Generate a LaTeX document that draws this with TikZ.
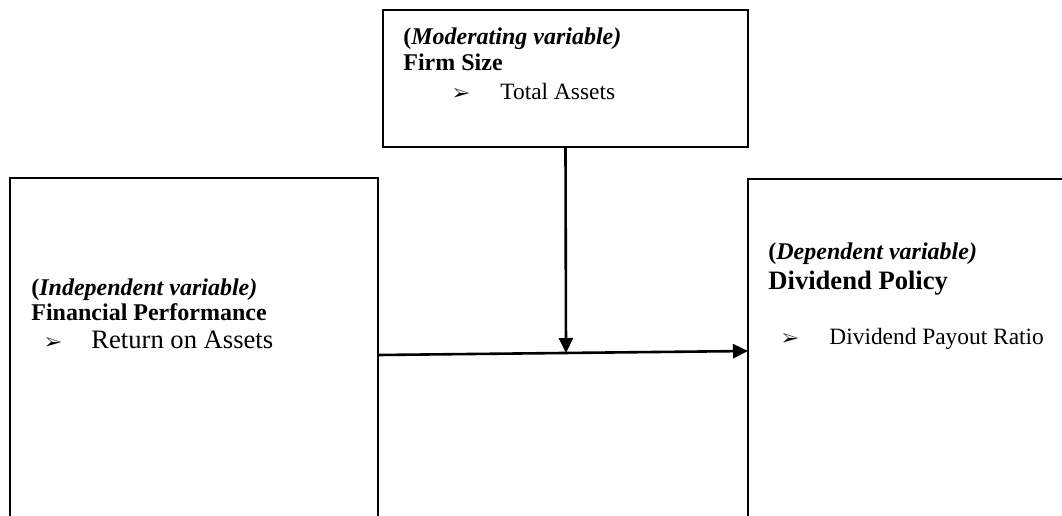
\documentclass[tikz,border=0pt]{standalone}
\usepackage{fontspec}
\setmainfont{Liberation Serif}
\usepackage{pifont}
\usetikzlibrary{positioning, arrows.meta}

\begin{document}
\begin{tikzpicture}[x=0.5pt, y=-0.5pt,
    box/.style={draw, rectangle, line width=1.2pt, outer sep=0, inner sep=0, anchor=north west},
    txt/.style={anchor=base west, inner sep=0, font=\fontsize{12}{14}\selectfont},
    conn/.style={line width=1.3pt, -{Triangle[length=7.5pt, width=7pt]}}]
      \clip (0,0) rectangle (1062,515);
      \node[box, minimum width=182.5pt, minimum height=68.5pt] (fs) at (383,10) {};
      \node[box, minimum width=184pt, minimum height=200pt] (fp) at (10,178) {};
      \node[box, minimum width=200pt, minimum height=200pt] (dp) at (748,179) {};

      \node[txt] (fsvar) at (403,44) {\textbf{(}\textbf{\textit{Moderating variable)}}};
      \node[txt] (fsname) at (403,70) {\textbf{Firm Size}};
      \node[txt, font=\fontsize{9}{11}\selectfont] (fsbul) at (453,99) {\ding{226}};
      \node[txt, font=\fontsize{11.7}{14}\selectfont] (fsitem) at (500,99) {Total Assets};

      \node[txt] (fpvar) at (31,295) {\textbf{(}\textbf{\textit{Independent variable)}}};
      \node[txt] (fpname) at (31,320) {\textbf{Financial Performance}};
      \node[txt, font=\fontsize{9}{11}\selectfont] (fpbul) at (45,348) {\ding{226}};
      \node[txt, font=\fontsize{13.3}{16}\selectfont] (fpitem) at (91,348) {Return on Assets};

      \node[txt] (dpvar) at (768,259) {\textbf{(}\textbf{\textit{Dependent variable)}}};
      \node[txt, font=\fontsize{13.3}{16}\selectfont] (dpname) at (768,289) {\textbf{Dividend Policy}};
      \node[txt, font=\fontsize{9}{11}\selectfont] (dpbul) at (782,344) {\ding{226}};
      \node[txt, font=\fontsize{11.7}{14}\selectfont] (dpitem) at (829,344) {Dividend Payout Ratio};

      \coordinate (meet) at (566,353);
      \draw[conn] (fp.north east |- 0,355) -- (dp.north west |- 0,351);
      \draw[conn] (fs.south) -- (meet);
\end{tikzpicture}
\end{document}
